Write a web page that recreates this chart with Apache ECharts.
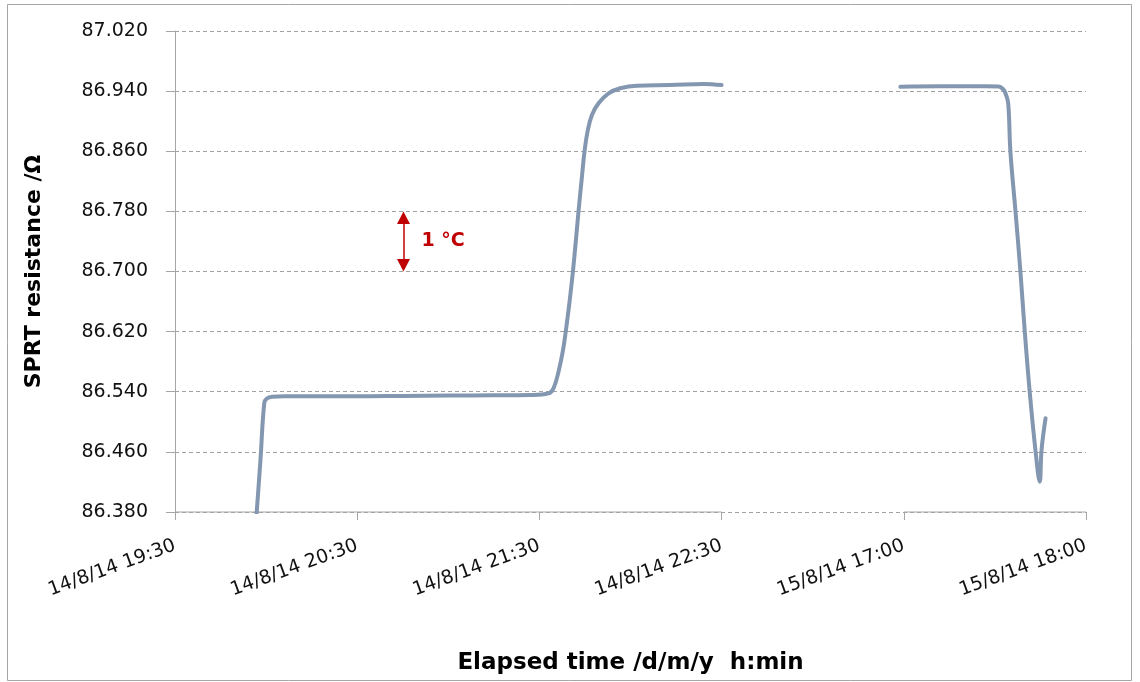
<!DOCTYPE html>
<html>
<head>
<meta charset="utf-8">
<script src="https://cdn.jsdelivr.net/npm/echarts@6/dist/echarts.min.js"></script>
<style>
html,body{margin:0;padding:0;background:#fff;}
#chart{width:1140px;height:682px;}
</style>
</head>
<body>
<div id="chart"></div>
<script>
// X axis: tick positions 0..5 (0..3 = 14/8 19:30..22:30, 4..5 = 15/8 17:00..18:00; break between 3 and 4)
const xTickLabels = ['14/8/14 19:30', '14/8/14 20:30', '14/8/14 21:30', '14/8/14 22:30', '15/8/14 17:00', '15/8/14 18:00'];
const xAxisSegments = [[0, 3], [4, 5]];

// Y axis
const yMin = 86.38, yMax = 87.02, yStep = 0.08;

// Run 1 (14/8/14 evening), time in axis hours
const run1Time = [0.447, 0.469, 0.490, 0.504, 0.533, 0.60, 0.80, 1.00, 1.25, 1.50, 1.75, 1.95, 2.050, 2.0774, 2.1049, 2.1296, 2.1472, 2.1653, 2.1840, 2.2004, 2.2147, 2.2334, 2.2477, 2.2641, 2.2883, 2.3246, 2.3795, 2.4437, 2.5354, 2.718, 2.901, 3.000];
const run1Res  = [86.375, 86.449, 86.525, 86.531, 86.5334, 86.534, 86.534, 86.534, 86.5345, 86.535, 86.5352, 86.5357, 86.5379, 86.5446, 86.5667, 86.5955, 86.6248, 86.6594, 86.700, 86.7419, 86.780, 86.8261, 86.860, 86.8860, 86.9082, 86.9238, 86.9371, 86.9438, 86.9472, 86.948, 86.9495, 86.948];

// Run 2 (15/8/14 evening)
const run2Time = [3.981, 4.20, 4.448, 4.521, 4.544, 4.558, 4.573, 4.585, 4.613, 4.640, 4.664, 4.691, 4.723, 4.746, 4.756, 4.778];
const run2Res  = [86.9459, 86.9465, 86.9465, 86.9462, 86.9428, 86.9371, 86.9238, 86.860, 86.780, 86.700, 86.620, 86.540, 86.4612, 86.4203, 86.4625, 86.5047];

// Annotation: 1 °C span
const annoX = 1.254, annoTop = 86.78, annoBottom = 86.70, annoText = '1 °C';

const zip = (a, b) => a.map((v, i) => [v, b[i]]);
const axisLineData = [];
xAxisSegments.forEach((s, i) => {
  if (i > 0) axisLineData.push([(xAxisSegments[i - 1][1] + s[0]) / 2, '-']);
  axisLineData.push([s[0], yMin], [s[1], yMin]);
});

const FONT = 'DejaVu Sans';
const lineColor = '#8497b0';
const gridTop = 31, gridBottom = 170, H = 682;
const headSize = 12.5;
// arrow symbols are centred on the line ends: pull ends in by half a head so the tips touch the span
const headInsetVal = (headSize / 2) * (yMax - yMin) / (H - gridTop - gridBottom);

const chart = echarts.init(document.getElementById('chart'), null, {renderer: 'canvas'});
chart.setOption({
  animation: false,
  backgroundColor: '#fff',
  grid: {left: 175, top: gridTop, right: 54, bottom: gridBottom, containLabel: false},
  xAxis: {
    type: 'value', min: 0, max: xTickLabels.length - 1, interval: 1,
    name: 'Elapsed time /d/m/y  h:min', nameLocation: 'middle', nameGap: 140,
    nameTextStyle: {fontFamily: FONT, fontWeight: 'bold', fontSize: 23, color: '#000', verticalAlign: 'top'},
    axisLine: {show: false},
    axisTick: {show: true, length: 8, lineStyle: {color: '#a6a6a6'}},
    axisLabel: {rotate: 20, margin: 33, fontFamily: FONT, fontSize: 19, color: '#111',
      formatter: v => xTickLabels[Math.round(v)] || ''},
    splitLine: {show: false}
  },
  yAxis: {
    type: 'value', min: yMin, max: yMax, interval: yStep,
    name: 'SPRT resistance /Ω', nameLocation: 'middle', nameGap: 130, nameRotate: 90,
    nameTextStyle: {fontFamily: FONT, fontWeight: 'bold', fontSize: 22, color: '#000'},
    axisLine: {show: true, lineStyle: {color: '#a6a6a6', width: 1}},
    axisTick: {show: true, length: 9, lineStyle: {color: '#a6a6a6'}},
    axisLabel: {margin: 27, fontFamily: FONT, fontSize: 19, color: '#111', formatter: v => v.toFixed(3)},
    splitLine: {show: true, lineStyle: {color: '#a0a0a0', type: [4, 3], width: 1}}
  },
  graphic: [{
    type: 'rect', shape: {x: 7.5, y: 4.5, width: 1124, height: 676},
    style: {fill: null, stroke: '#a6a6a6', lineWidth: 1}, silent: true, z: -1
  }],
  series: [
    {
      name: 'x axis', type: 'line', data: axisLineData, symbol: 'none', clip: false,
      connectNulls: false, lineStyle: {color: '#a6a6a6', width: 1}, z: 1, silent: true
    },
    {
      name: 'run1', type: 'line', data: zip(run1Time, run1Res), symbol: 'none',
      smooth: 0.4, clip: true,
      lineStyle: {color: lineColor, width: 4, join: 'round', cap: 'round'}, z: 3,
      markLine: {
        silent: true, symbol: ['triangle', 'triangle'], symbolSize: [13, headSize],
        lineStyle: {color: '#c00000', width: 1.5, type: 'solid'},
        label: {show: false},
        data: [[{coord: [annoX, annoTop - headInsetVal]}, {coord: [annoX, annoBottom + headInsetVal]}]]
      },
      markPoint: {
        silent: true, symbol: 'circle', symbolSize: 0,
        data: [{coord: [annoX, (annoTop + annoBottom) / 2], value: annoText}],
        label: {show: true, position: 'right', distance: 18, formatter: annoText,
          fontFamily: FONT, fontWeight: 'bold', fontSize: 19, color: '#c00000'}
      }
    },
    {
      name: 'run2', type: 'line', data: zip(run2Time, run2Res), symbol: 'none',
      smooth: 0.4, clip: true,
      lineStyle: {color: lineColor, width: 4, join: 'round', cap: 'round'}, z: 3
    }
  ]
});
</script>
</body>
</html>
